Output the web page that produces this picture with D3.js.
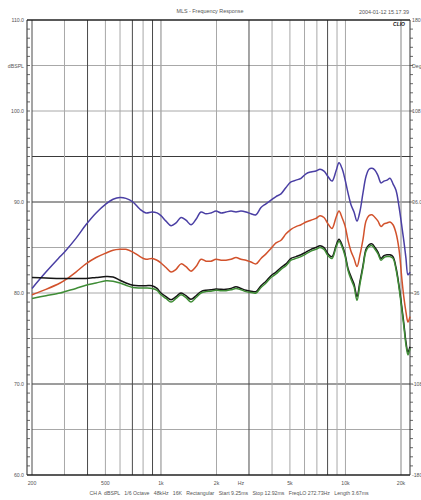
<!DOCTYPE html>
<html>
<head>
<meta charset="utf-8">
<script src="https://cdn.jsdelivr.net/npm/d3@7/dist/d3.min.js"></script>
<style>
  html, body { margin: 0; padding: 0; background: #fff; }
  svg { display: block; }
  text { font-family: "Liberation Sans", Arial, sans-serif; fill: #555; }
</style>
</head>
<body>
<svg id="chart" width="421" height="500"></svg>
<script>
// Frequency points (Hz) shared by all four responses
const freqs = [200, 238, 284, 306, 346, 392, 445, 504, 550, 600,
  646, 705, 770, 830, 894, 952, 1000, 1065, 1134, 1207,
  1284, 1367, 1455, 1549, 1648, 1754, 1867, 1988, 2116, 2252,
  2397, 2551, 2715, 2890, 3076, 3274, 3485, 3709, 3948, 4203,
  4473, 4761, 5068, 5394, 5741, 6111, 6504, 6923, 7278, 7652,
  8043, 8455, 8889, 9226, 9576, 9941, 10322, 10715, 11126, 11549,
  11990, 12446, 12922, 13414, 13925, 14457, 15009, 15580, 16180, 16798,
  17438, 18101, 18792, 19509, 20250, 20760, 21280, 21820, 22380];

// SPL (dB) per response
const blueSPL = [80.5, 82.3, 84.0, 84.7, 86.0, 87.5, 88.8, 89.8, 90.3, 90.5,
  90.4, 90.0, 89.2, 88.8, 88.9, 88.8, 88.5, 87.9, 87.4, 87.7,
  88.3, 88.0, 87.5, 88.1, 88.9, 88.7, 88.8, 89.0, 88.8, 88.9,
  89.0, 88.9, 89.0, 88.9, 88.7, 88.6, 89.4, 89.8, 90.2, 90.6,
  90.9, 91.6, 92.2, 92.4, 92.6, 93.1, 93.3, 93.4, 93.6, 93.4,
  92.8, 92.3, 93.4, 94.3, 93.7, 92.5, 91.0, 89.7, 88.9, 87.9,
  89.0, 91.0, 92.8, 93.6, 93.7, 93.5, 92.9, 92.1, 92.3, 92.4,
  92.6, 92.0, 91.3, 89.5, 87.2, 85.6, 83.8, 82.0, 82.3];

const redSPL = [79.8, 80.4, 81.1, 81.5, 82.3, 83.2, 83.9, 84.4, 84.7, 84.8,
  84.8, 84.5, 84.0, 83.7, 83.8, 83.6, 83.3, 82.8, 82.3, 82.6,
  83.2, 82.9, 82.4, 82.9, 83.7, 83.5, 83.5, 83.7, 83.6, 83.6,
  83.7, 83.9, 83.7, 83.6, 83.4, 83.2, 83.8, 84.3, 84.9, 85.5,
  85.8, 86.5, 87.0, 87.3, 87.5, 87.8, 88.0, 88.2, 88.5, 88.3,
  87.6, 87.1, 88.3, 89.0, 88.3, 87.4, 85.8, 84.6, 83.8, 82.9,
  84.2, 85.9, 87.9, 88.5, 88.6, 88.3, 87.9, 87.3, 87.6, 87.7,
  87.8, 87.5, 86.6, 84.8, 81.4, 79.4, 77.9, 76.8, 77.4];

const blackSPL = [81.7, 81.65, 81.6, 81.6, 81.6, 81.6, 81.7, 81.8, 81.75, 81.4,
  81.1, 80.85, 80.8, 80.8, 80.8, 80.5, 80.0, 79.6, 79.25, 79.6,
  80.0, 79.7, 79.3, 79.7, 80.15, 80.3, 80.35, 80.45, 80.4, 80.4,
  80.5, 80.7, 80.5, 80.3, 80.2, 80.15, 80.8, 81.3, 81.9, 82.3,
  82.8, 83.2, 83.8, 84.0, 84.2, 84.5, 84.8, 85.0, 85.2, 85.0,
  84.3, 84.0, 85.2, 85.9, 85.3, 84.3, 82.7, 81.8, 81.0, 79.6,
  81.3, 83.0, 84.8, 85.3, 85.4, 85.0, 84.5, 83.8, 84.1, 84.2,
  84.2, 84.0, 82.8, 80.8, 78.3, 76.5, 74.6, 73.5, 74.1];

const greenSPL = [79.4, 79.7, 80.0, 80.2, 80.5, 80.85, 81.1, 81.35, 81.3, 81.1,
  80.85, 80.6, 80.55, 80.55, 80.5, 80.3, 79.8, 79.4, 79.0, 79.4,
  79.8, 79.5, 79.0, 79.5, 80.0, 80.15, 80.2, 80.3, 80.25, 80.25,
  80.35, 80.5, 80.35, 80.15, 80.05, 80.0, 80.6, 81.1, 81.7, 82.1,
  82.6, 83.0, 83.6, 83.8, 84.0, 84.3, 84.6, 84.8, 85.0, 84.8,
  84.1, 83.8, 85.0, 85.7, 85.1, 84.1, 82.5, 81.5, 80.7, 79.2,
  81.0, 82.8, 84.6, 85.1, 85.2, 84.8, 84.3, 83.6, 83.9, 84.0,
  84.0, 83.8, 82.6, 80.6, 78.0, 76.2, 74.3, 73.2, 73.9];

// Axis labels
const xTickFreqs = [200, 500, 1000, 2000, 5000, 10000, 20000];
const xTickLabels = ["200", "500", "1k", "2k", "5k", "10k", "20k"];
const gridFreqs = [200, 300, 400, 500, 600, 700, 800, 900, 1000,
  2000, 3000, 4000, 5000, 6000, 7000, 8000, 9000, 10000, 20000];
const darkGridFreqs = [200, 400, 700, 900, 3000, 8000];
const leftTickValues = [110, 105, 100, 90, 80, 70, 60];
const leftTickLabels = ["110.0", "dBSPL", "100.0", "90.0", "80.0", "70.0", "60.0"];
const rightTickLabels = ["180", "Deg", "108", "36.0", "-36", "-108", "-180"];
const darkGridDB = [95, 90, 70];

const svg = d3.select("#chart");
const frame = { left: 27, right: 410, top: 20, bottom: 475 };

const x = d3.scaleLog().domain([200, 20000]).range([32, 401]);
const y = d3.scaleLinear().domain([60, 110]).range([475, 20]);

// horizontal grid every 5 dB
const gridDB = d3.range(65, 110, 5);
svg.append("g").selectAll("line").data(gridDB).join("line")
  .attr("x1", 32).attr("x2", frame.right)
  .attr("y1", d => y(d)).attr("y2", d => y(d))
  .attr("stroke", d => darkGridDB.includes(d) ? "#3a3a3a" : "#a8a8a8")
  .attr("stroke-width", 1);

// vertical grid at decade subdivisions
svg.append("g").selectAll("line").data(gridFreqs).join("line")
  .attr("x1", d => x(d)).attr("x2", d => x(d))
  .attr("y1", frame.top).attr("y2", frame.bottom)
  .attr("stroke", d => darkGridFreqs.includes(d) ? "#4a4a4a" : "#a8a8a8")
  .attr("stroke-width", d => (d === 1000 || d === 20000) ? 1.4 : 1);

// frame
svg.append("line").attr("x1", frame.left).attr("x2", frame.right)
  .attr("y1", frame.top).attr("y2", frame.top)
  .attr("stroke", "#222").attr("stroke-width", 1.6);
svg.append("line").attr("x1", frame.left).attr("x2", frame.right)
  .attr("y1", frame.bottom).attr("y2", frame.bottom)
  .attr("stroke", "#222").attr("stroke-width", 1.4);
svg.append("line").attr("x1", frame.left).attr("x2", frame.left)
  .attr("y1", frame.top).attr("y2", frame.bottom)
  .attr("stroke", "#222").attr("stroke-width", 1);
svg.append("line").attr("x1", frame.right).attr("x2", frame.right)
  .attr("y1", frame.top).attr("y2", frame.bottom)
  .attr("stroke", "#333").attr("stroke-width", 1);

// minor ticks every dB on both sides
const minorDB = d3.range(61, 110, 1);
svg.append("g").selectAll("line").data(minorDB).join("line")
  .attr("x1", frame.left).attr("x2", frame.left + 3)
  .attr("y1", d => y(d)).attr("y2", d => y(d))
  .attr("stroke", "#444").attr("stroke-width", 0.8);
svg.append("g").selectAll("line").data(minorDB).join("line")
  .attr("x1", frame.right).attr("x2", frame.right + 3)
  .attr("y1", d => y(d)).attr("y2", d => y(d))
  .attr("stroke", "#444").attr("stroke-width", 0.8);

// response curves
const series = [
  { values: blueSPL, color: "#4a3fa4" },
  { values: redSPL, color: "#d2522c" },
  { values: blackSPL, color: "#151515" },
  { values: greenSPL, color: "#3f8d36" }
];
const line = d3.line()
  .x((d, i) => x(freqs[i]))
  .y(d => y(d))
  .curve(d3.curveCatmullRom.alpha(0.5));
svg.append("g").selectAll("path").data(series).join("path")
  .attr("d", s => line(s.values))
  .attr("fill", "none")
  .attr("stroke", s => s.color)
  .attr("stroke-width", 1.5)
  .attr("stroke-linejoin", "round");

// left axis labels
svg.append("g").selectAll("text").data(leftTickValues).join("text")
  .attr("x", 24).attr("y", d => y(d) + 2)
  .attr("text-anchor", "end")
  .attr("font-size", 5.2)
  .text((d, i) => leftTickLabels[i]);

// right axis labels
svg.append("g").selectAll("text").data(leftTickValues).join("text")
  .attr("x", 412).attr("y", d => y(d) + 2)
  .attr("text-anchor", "start")
  .attr("font-size", 5.2)
  .text((d, i) => rightTickLabels[i]);

// bottom axis labels
svg.append("g").selectAll("text").data(xTickFreqs).join("text")
  .attr("x", d => x(d)).attr("y", 485)
  .attr("text-anchor", "middle")
  .attr("font-size", 5.2)
  .text((d, i) => xTickLabels[i]);
svg.append("text").attr("x", 241).attr("y", 485)
  .attr("text-anchor", "middle").attr("font-size", 5.2).text("Hz");

// title, timestamp, footer
svg.append("text").attr("x", 210).attr("y", 13)
  .attr("text-anchor", "middle").attr("font-size", 5.4)
  .text("MLS - Frequency Response");
svg.append("text").attr("x", 409).attr("y", 14)
  .attr("text-anchor", "end").attr("font-size", 5.4)
  .text("2004-01-12 15.17.39");
svg.append("text").attr("x", 229).attr("y", 495)
  .attr("text-anchor", "middle").attr("font-size", 5.2)
  .attr("xml:space", "preserve")
  .text("CH A  dBSPL   1/6 Octave   48kHz   16K   Rectangular   Start 9.25ms   Stop 12.92ms   FreqLO 272.73Hz   Length 3.67ms");

// logo
svg.append("text").attr("x", 405).attr("y", 26)
  .attr("text-anchor", "end").attr("font-size", 5)
  .attr("font-weight", "bold").attr("font-style", "italic")
  .style("fill", "#111")
  .text("CLIO");
</script>
</body>
</html>
